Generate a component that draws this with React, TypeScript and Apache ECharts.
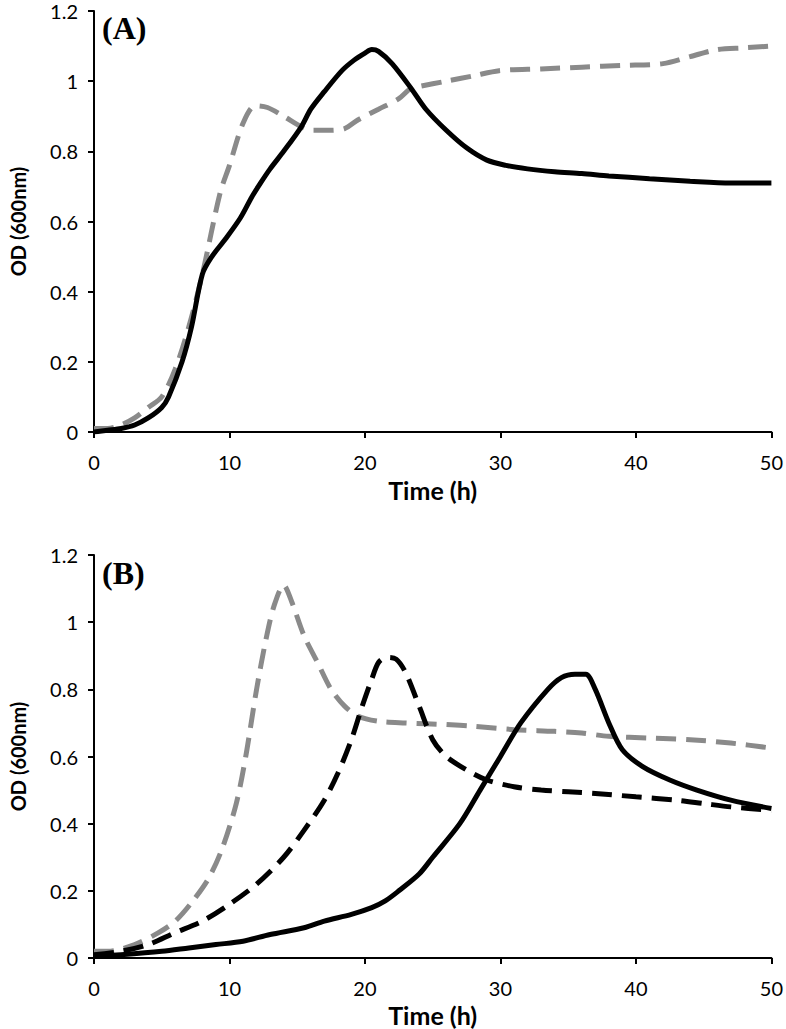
import React, { useEffect, useRef } from "react";
import * as echarts from "echarts";

const xTicks = [0, 10, 20, 30, 40, 50];
const yTicks = [0, 0.2, 0.4, 0.6, 0.8, 1, 1.2];

// Panel A
const aBlackT = [0, 1, 2, 3, 4, 5, 5.5, 6.5, 7.2, 8, 8.7, 9.7, 10.8, 11.65, 12.3, 13, 14, 15.3, 16, 17, 18.3, 19.2, 20, 20.5, 21, 22, 23.4, 24.5, 26, 27.5, 29, 30.4, 32, 34, 36, 38, 41, 44, 47, 50];
const aBlackV = [0, 0.005, 0.01, 0.02, 0.04, 0.07, 0.1, 0.2, 0.3, 0.45, 0.5, 0.55, 0.61, 0.67, 0.71, 0.75, 0.8, 0.87, 0.92, 0.97, 1.03, 1.06, 1.08, 1.09, 1.085, 1.05, 0.98, 0.92, 0.86, 0.81, 0.775, 0.76, 0.75, 0.742, 0.737, 0.73, 0.722, 0.715, 0.71, 0.71];
const aGrayT = [0, 1, 2, 3, 4, 5, 6, 7, 8, 9.3, 10, 11, 11.9, 12.8, 14, 15.3, 16, 17.2, 18.5, 19.5, 21, 22.5, 23.4, 24, 26, 28, 29.9, 33, 36, 39, 42, 44, 46, 48, 50];
const aGrayV = [0.01, 0.01, 0.02, 0.04, 0.07, 0.1, 0.18, 0.3, 0.45, 0.68, 0.76, 0.88, 0.93, 0.925, 0.9, 0.87, 0.86, 0.86, 0.865, 0.89, 0.92, 0.95, 0.98, 0.985, 1.0, 1.015, 1.03, 1.035, 1.04, 1.045, 1.05, 1.07, 1.09, 1.095, 1.1];

// Panel B
const bGrayT = [0, 1, 3, 4.7, 6, 7.3, 8.5, 9.5, 10.5, 11.2, 12, 12.7, 13.3, 14, 14.6, 15.5, 16.5, 17.5, 18.5, 19.5, 21, 23, 26, 28, 31, 34, 36, 38, 41, 44, 47, 50];
const bGrayV = [0.02, 0.02, 0.04, 0.074, 0.11, 0.17, 0.24, 0.33, 0.46, 0.6, 0.8, 0.95, 1.05, 1.11, 1.06, 0.96, 0.88, 0.8, 0.75, 0.72, 0.705, 0.7, 0.695, 0.69, 0.68, 0.675, 0.67, 0.66, 0.655, 0.65, 0.64, 0.625];
const bDashT = [0, 2, 4, 5.9, 8, 10, 12, 14, 15.5, 17, 18, 19, 19.8, 20.5, 21, 21.6, 22.3, 23, 24, 25, 26, 27.5, 29, 31, 33, 35, 37, 40, 43, 45, 47, 50];
const bDashV = [0.01, 0.02, 0.04, 0.074, 0.11, 0.16, 0.22, 0.3, 0.38, 0.47, 0.55, 0.65, 0.75, 0.83, 0.88, 0.895, 0.89, 0.85, 0.75, 0.65, 0.6, 0.56, 0.53, 0.51, 0.5, 0.495, 0.49, 0.48, 0.47, 0.46, 0.45, 0.44];
const bSolidT = [0, 2, 5, 7, 9, 11, 13, 15.5, 17, 19, 20.5, 21.5, 22.5, 24, 25, 27, 28.5, 30, 31.5, 33.5, 34.5, 35.5, 36.3, 37, 38, 39, 40.5, 42.5, 44.5, 47, 50];
const bSolidV = [0.005, 0.01, 0.02, 0.03, 0.04, 0.05, 0.07, 0.09, 0.11, 0.13, 0.15, 0.17, 0.2, 0.25, 0.3, 0.4, 0.5, 0.6, 0.7, 0.8, 0.835, 0.845, 0.845, 0.8, 0.7, 0.62, 0.57, 0.53, 0.5, 0.47, 0.445];

const zip = (t: number[], v: number[]) => t.map((x, i) => [x, v[i]]);

const GRAY = "#8a8a8a";
const BLACK = "#000000";

export default function App() {
  const ref = useRef<HTMLDivElement>(null);
  useEffect(() => {
    if (!ref.current) return;
    const chart = echarts.init(ref.current, null, { renderer: "svg" });
    const axisX = (gridIndex: number) => ({
      type: "value",
      gridIndex,
      min: xTicks[0],
      max: xTicks[xTicks.length - 1],
      interval: 10,
      name: "Time (h)",
      nameLocation: "middle",
      nameGap: gridIndex === 0 ? 45 : 44,
      nameTextStyle: { fontFamily: "Lato", fontWeight: "bold", fontSize: 25, lineHeight: 25, color: "#000" },
      axisLine: { show: true, lineStyle: { color: "#000", width: 2 } },
      axisTick: { show: true, length: 6, lineStyle: { color: "#000", width: 2 } },
      axisLabel: { fontFamily: "Lato", fontSize: 20, color: "#000", margin: 20 },
      splitLine: { show: false },
    });
    const axisY = (gridIndex: number) => ({
      type: "value",
      gridIndex,
      min: yTicks[0],
      max: yTicks[yTicks.length - 1],
      interval: 0.2,
      name: "OD (600nm)",
      nameLocation: "middle",
      nameGap: 66,
      nameTextStyle: { fontFamily: "Lato", fontWeight: "bold", fontSize: 20, color: "#000" },
      axisLine: { show: true, lineStyle: { color: "#000", width: 2 } },
      axisTick: { show: true, length: 6, lineStyle: { color: "#000", width: 2 } },
      axisLabel: {
        fontFamily: "Lato",
        fontSize: 20,
        color: "#000",
        margin: 16,
        formatter: (v: number) => String(Math.round(v * 10) / 10),
      },
      splitLine: { show: false },
    });
    const line = (xi: number, data: number[][], color: string, dashed: boolean) => ({
      type: "line",
      xAxisIndex: xi,
      yAxisIndex: xi,
      data,
      smooth: 0.3,
      showSymbol: false,
      symbol: "none",
      lineStyle: { color, width: 5, type: dashed ? [20, 10] : "solid", cap: "butt" },
      z: dashed ? 2 : 3,
    });
    chart.setOption({
      animation: false,
      backgroundColor: "#fff",
      grid: [
        { left: 79, right: 13, top: 11, height: 421 },
        { left: 79, right: 13, top: 555, height: 403 },
      ],
      xAxis: [axisX(0), axisX(1)],
      yAxis: [axisY(0), axisY(1)],
      graphic: [
        { type: "text", left: 102, top: 12, style: { text: "(A)", font: "bold 32px 'Liberation Serif'", fill: "#000" } },
        { type: "text", left: 102, top: 557, style: { text: "(B)", font: "bold 32px 'Liberation Serif'", fill: "#000" } },
      ],
      series: [
        line(0, zip(aGrayT, aGrayV), GRAY, true),
        line(0, zip(aBlackT, aBlackV), BLACK, false),
        line(1, zip(bGrayT, bGrayV), GRAY, true),
        line(1, zip(bDashT, bDashV), BLACK, true),
        line(1, zip(bSolidT, bSolidV), BLACK, false),
      ],
    });
    return () => chart.dispose();
  }, []);
  return <div ref={ref} style={{ position: "fixed", left: 0, top: 0, width: 786, height: 1029 }} />;
}
